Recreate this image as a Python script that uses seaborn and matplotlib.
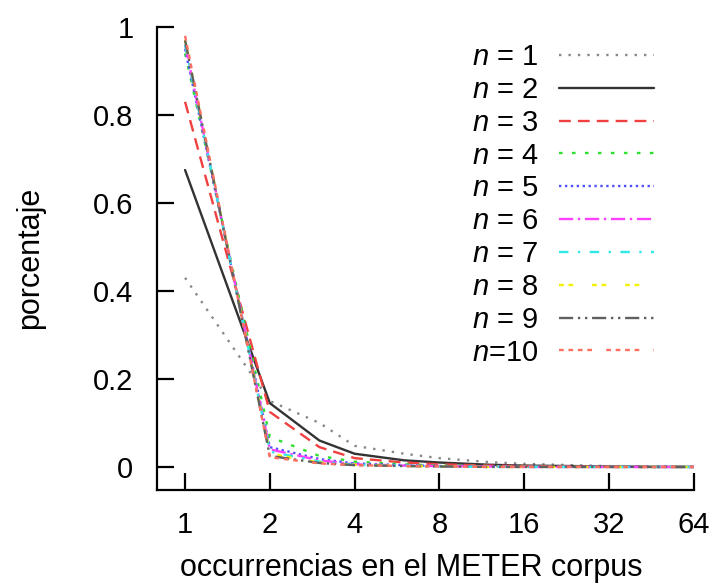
import pandas as pd
import matplotlib
matplotlib.use("Agg")
import matplotlib.pyplot as plt
import seaborn as sns

# data
occurrences = [1, 2, 3, 4, 6, 8, 12, 16, 24, 32, 48, 64]
n1 = [0.43, 0.15, 0.10, 0.048, 0.03, 0.02, 0.011, 0.007, 0.004, 0.002, 0.001, 0.0]
n2 = [0.675, 0.145, 0.06, 0.03, 0.015, 0.01, 0.005, 0.003, 0.002, 0.001, 0.0, 0.0]
n3 = [0.83, 0.125, 0.045, 0.02, 0.01, 0.006, 0.003, 0.002, 0.001, 0.0, 0.0, 0.0]
n4 = [0.94, 0.068, 0.025, 0.012, 0.006, 0.003, 0.002, 0.001, 0.0, 0.0, 0.0, 0.0]
n5 = [0.95, 0.045, 0.018, 0.008, 0.004, 0.002, 0.001, 0.0, 0.0, 0.0, 0.0, 0.0]
n6 = [0.96, 0.04, 0.015, 0.006, 0.003, 0.002, 0.001, 0.0, 0.0, 0.0, 0.0, 0.0]
n7 = [0.96, 0.035, 0.012, 0.005, 0.003, 0.001, 0.0, 0.0, 0.0, 0.0, 0.0, 0.0]
n8 = [0.97, 0.03, 0.01, 0.005, 0.002, 0.001, 0.0, 0.0, 0.0, 0.0, 0.0, 0.0]
n9 = [0.97, 0.025, 0.009, 0.004, 0.002, 0.001, 0.0, 0.0, 0.0, 0.0, 0.0, 0.0]
n10 = [0.98, 0.022, 0.008, 0.004, 0.002, 0.001, 0.0, 0.0, 0.0, 0.0, 0.0, 0.0]
series = [n1, n2, n3, n4, n5, n6, n7, n8, n9, n10]
labels = ["$n$ = 1", "$n$ = 2", "$n$ = 3", "$n$ = 4", "$n$ = 5",
          "$n$ = 6", "$n$ = 7", "$n$ = 8", "$n$ = 9", "$n$=10"]
x_ticks = [1, 2, 4, 8, 16, 32, 64]
y_ticks = [0, 0.2, 0.4, 0.6, 0.8, 1]

colors = ["#888888", "#333333", "#f04040", "#30e030", "#5050ff",
          "#ff40ff", "#30e8e8", "#f0f000", "#606060", "#ff7060"]
dashes = [(1, 3), None, (5, 3), (1.5, 4), (1, 1.5), (6, 2, 1, 2),
          (4, 4, 1, 4), (2, 2, 2, 8), (6, 2, 1, 2, 1, 2), (2, 2, 2, 2, 2, 2, 2, 6)]

sns.set_style("ticks")
plt.rcParams["font.family"] = ["Liberation Sans", "DejaVu Sans"]
plt.rcParams["mathtext.fontset"] = "custom"
plt.rcParams["mathtext.rm"] = "Liberation Sans"
plt.rcParams["mathtext.it"] = "Liberation Sans:italic"
for k in ["text.color", "axes.labelcolor", "xtick.color", "ytick.color"]:
    plt.rcParams[k] = "black"

fig = plt.figure(figsize=(7.17, 5.88), dpi=100)
ax = fig.add_axes([0.219, 0.167, 0.749, 0.787])

for vals, lab, col, ds in zip(series, labels, colors, dashes):
    df = pd.DataFrame({"x": occurrences, "y": vals})
    sns.lineplot(data=df, x="x", y="y", color=col, label=lab, lw=1.7, ax=ax)
    if ds is not None:
        ax.get_lines()[-1].set_dashes(ds)

ax.set_xscale("log", base=2)
ax.set_xlim(0.795, 64.2)
ax.set_ylim(-0.052, 1.0)
ax.set_xticks(x_ticks)
ax.set_xticklabels([str(t) for t in x_ticks])
ax.set_yticks(y_ticks)
ax.set_yticklabels(["0", "0.2", "0.4", "0.6", "0.8", "1"])
ax.minorticks_off()
ax.tick_params(direction="in", length=12, width=1.6, labelsize=21)
ax.tick_params(axis="y", pad=17)
ax.tick_params(axis="x", pad=15)
for s in ["top", "right"]:
    ax.spines[s].set_visible(False)
for s in ["left", "bottom"]:
    ax.spines[s].set_linewidth(1.6)
    ax.spines[s].set_color("black")

ax.set_xlabel("occurrencias en el METER corpus", fontsize=22)
ax.set_ylabel("porcentaje", fontsize=22)
ax.xaxis.set_label_coords(0.473, -0.136)
ax.yaxis.set_label_coords(-0.209, 0.501)

leg = ax.legend(loc="upper left", bbox_to_anchor=(0.587, 0.965), frameon=False,
                fontsize=21, handlelength=3.25, handletextpad=0.7,
                labelspacing=0.165, borderpad=0, borderaxespad=0)
# labels left, samples right
for hp in leg._legend_box.get_children()[1].get_children()[0].get_children():
    kids = hp.get_children()
    hp._children = [kids[1], kids[0]]

fig.savefig("out.png", dpi=100)
